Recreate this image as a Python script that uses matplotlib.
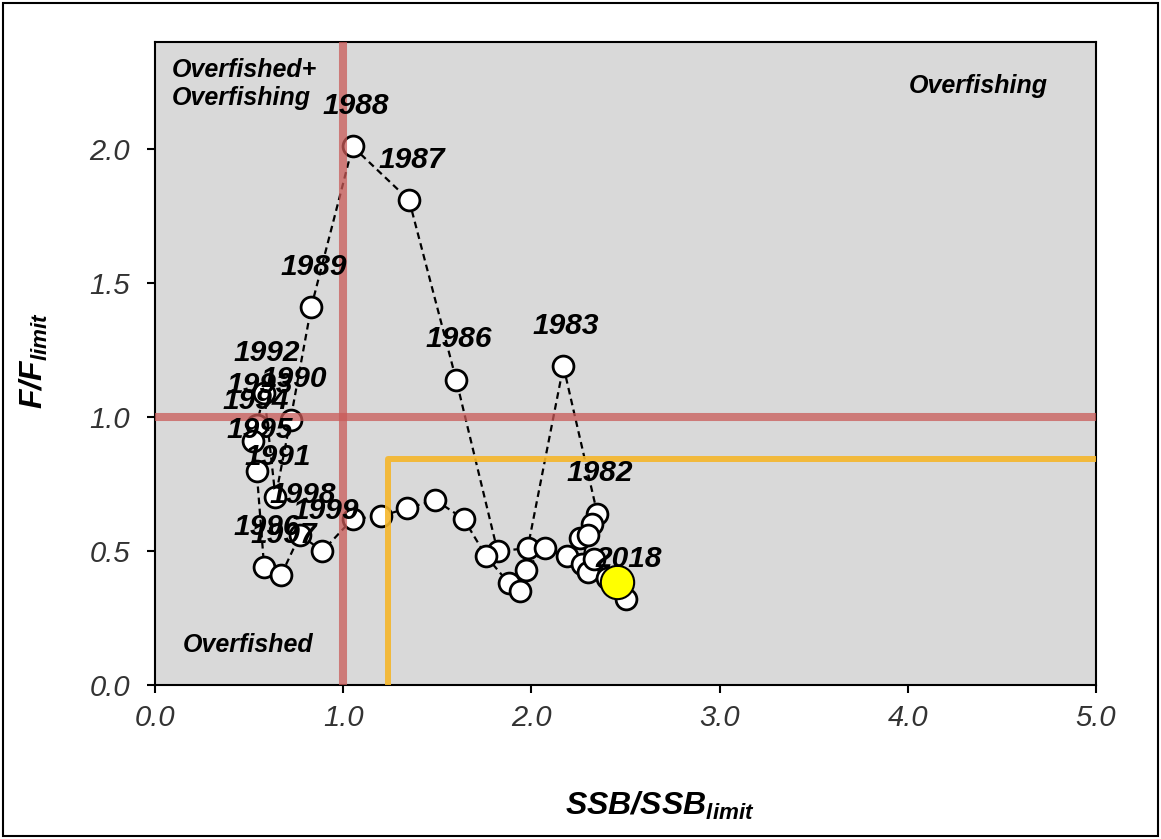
import matplotlib
matplotlib.use("Agg")
import matplotlib.pyplot as plt
from matplotlib.patches import Rectangle

plt.rcParams['font.family'] = ['Liberation Sans', 'DejaVu Sans']
plt.rcParams['mathtext.fontset'] = 'custom'
plt.rcParams['mathtext.rm'] = 'Liberation Sans'
plt.rcParams['mathtext.it'] = 'Liberation Sans:italic'
plt.rcParams['mathtext.bf'] = 'Liberation Sans:bold'
plt.rcParams['mathtext.bfit'] = 'Liberation Sans:bold:italic'

# ---- data ----
years = list(range(1982, 2019))
ssb_ratio = [2.35, 2.17, 1.98, 1.82, 1.60, 1.35, 1.05, 0.83, 0.72, 0.64,
             0.58, 0.54, 0.52, 0.54, 0.58, 0.67, 0.77, 0.89, 1.05, 1.20,
             1.34, 1.49, 1.64, 1.76, 1.88, 1.94, 1.97, 2.07, 2.19, 2.26,
             2.32, 2.30, 2.27, 2.30, 2.33, 2.40, 2.50]
f_ratio = [0.64, 1.19, 0.51, 0.50, 1.14, 1.81, 2.01, 1.41, 0.99, 0.70,
           1.09, 0.97, 0.91, 0.80, 0.44, 0.41, 0.56, 0.50, 0.62, 0.63,
           0.66, 0.69, 0.62, 0.48, 0.38, 0.35, 0.43, 0.51, 0.48, 0.55,
           0.60, 0.56, 0.45, 0.42, 0.47, 0.40, 0.32]
labeled_years = [1982, 1983, 1986, 1987, 1988, 1989, 1990, 1991, 1992, 1993,
                 1994, 1995, 1996, 1997, 1998, 1999, 2018]
current_ssb = [2.455]
current_f = [0.385]
ssb_limit = 1.0
f_limit = 1.0
ssb_target = 1.24
f_target = 0.845
xticks = [0.0, 1.0, 2.0, 3.0, 4.0, 5.0]
yticks = [0.0, 0.5, 1.0, 1.5, 2.0]

# ---- figure ----
fig = plt.figure(figsize=(11.61, 8.39), dpi=100)
fig.patch.set_facecolor('white')
fig.patches.append(Rectangle((0.003, 0.004), 0.994, 0.992, transform=fig.transFigure,
                             fill=False, edgecolor='black', linewidth=1.5))
ax = fig.add_axes([155/1161, 1-685/839, (1096-155)/1161, (685-42)/839])
ax.set_facecolor('#d9d9d9')

ax.plot(ssb_ratio, f_ratio, linestyle=(0, (3, 2)), color='black', linewidth=1.6, zorder=2)
ax.plot(ssb_ratio, f_ratio, linestyle='none', marker='o', markersize=15,
        markerfacecolor='white', markeredgecolor='black', markeredgewidth=2, zorder=3)
ax.plot(current_ssb, current_f, linestyle='none', marker='o', markersize=24,
        markerfacecolor='#ffff00', markeredgecolor='black', markeredgewidth=1.5, zorder=4)

# reference lines
ax.axvline(ssb_limit, color='#c95a58', alpha=0.75, linewidth=5.8, zorder=5)
ax.axhline(f_limit, color='#c95a58', alpha=0.75, linewidth=5.8, zorder=5)
ax.plot([ssb_target, ssb_target, 5.0], [0.0, f_target, f_target],
        color='#f5b62a', alpha=0.9, linewidth=4.3, zorder=5, solid_capstyle='butt')

for yr, xv, yv in zip(years, ssb_ratio, f_ratio):
    if yr in labeled_years:
        ax.annotate(str(yr), (xv, yv), xytext=(2, 29), textcoords='offset points',
                    ha='center', va='center', fontsize=21.5, fontweight='bold',
                    fontstyle='italic', color='black', zorder=6)

ax.text(0.09, 2.34, 'Overfished+\nOverfishing', ha='left', va='top', fontsize=18,
        fontweight='bold', fontstyle='italic', linespacing=1.2, zorder=6)
ax.text(4.745, 2.235, 'Overfishing', ha='right', va='center', fontsize=18,
        fontweight='bold', fontstyle='italic', zorder=6)
ax.text(0.494, 0.149, 'Overfished', ha='center', va='center', fontsize=18,
        fontweight='bold', fontstyle='italic', zorder=6)

ax.set_xlim(0, 5)
ax.set_ylim(0, 2.4)
ax.set_xticks(xticks)
ax.set_yticks(yticks)
ax.set_xticklabels([f'{v:.1f}' for v in xticks], fontstyle='italic', fontsize=21, color='#333333')
ax.set_yticklabels([f'{v:.1f}' for v in yticks], fontstyle='italic', fontsize=21, color='#333333')
ax.tick_params(direction='out', length=6, width=1.5, pad=8)
ax.tick_params(axis='y', pad=12)
for s in ax.spines.values():
    s.set_linewidth(1.5)
    s.set_color('black')

ax.set_xlabel(r'$\mathbfit{SSB/SSB}_{\mathbfit{limit}}$', fontsize=23)
ax.xaxis.set_label_coords((660-155)/941, (685-790)/643)
ax.set_ylabel(r'$\mathbfit{F/F}_{\mathbfit{limit}}$', fontsize=23)
ax.yaxis.set_label_coords((50-155)/941, (685-360)/643)

fig.savefig('out.png', dpi=100)
